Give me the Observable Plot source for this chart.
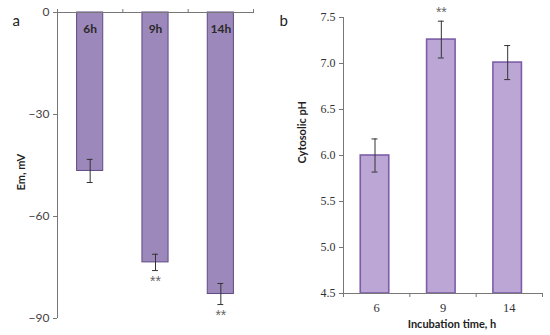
<!DOCTYPE html>
<html>
<head>
<meta charset="utf-8">
<script src="https://cdn.jsdelivr.net/npm/d3@7"></script>
<script src="https://cdn.jsdelivr.net/npm/@observablehq/plot@0.6"></script>
<style>
  html, body { margin: 0; padding: 0; background: #fff; }
  #wrap { display: flex; width: 550px; height: 335px; }
  #wrap svg { display: block; background: #fff; }
</style>
</head>
<body>
<div id="wrap"></div>
<script>
// Panel a: membrane potential
const panelAHours = ["6h", "9h", "14h"];
const panelAValues = [-46.6, -73.5, -82.8];
const panelAErrors = [3.4, 2.4, 3.1];
const panelASig = ["", "**", "**"];
const panelATicks = [0, -30, -60, -90];

// Panel b: cytosolic pH
const panelBHours = ["6", "9", "14"];
const panelBValues = [6.0, 7.26, 7.01];
const panelBErrors = [0.18, 0.2, 0.185];
const panelBSig = ["", "**", ""];
const panelBTicks = [4.5, 5.0, 5.5, 6.0, 6.5, 7.0, 7.5];

const dataA = panelAHours.map((h, i) => ({i, hour: h, value: panelAValues[i], err: panelAErrors[i], sig: panelASig[i]}));
const dataB = panelBHours.map((h, i) => ({i, hour: h, value: panelBValues[i], err: panelBErrors[i], sig: panelBSig[i]}));
const bounds = d3.range(panelAHours.length + 1);
const sans = "Lato, 'Open Sans', sans-serif";
const serif = "'Liberation Serif', 'DejaVu Serif', serif";
const starFont = "'Liberation Sans', Arial, sans-serif";
const axisColor = "#777";
const errColor = "#333";

const plotA = Plot.plot({
  width: 275, height: 335,
  marginLeft: 57, marginRight: 22, marginTop: 12, marginBottom: 17,
  style: {fontFamily: sans, background: "#fff", overflow: "visible"},
  x: {type: "linear", domain: [0, panelAHours.length], axis: null},
  y: {domain: [d3.min(panelATicks), d3.max(panelATicks)], axis: null},
  marks: [
    Plot.rectY(dataA, {x1: d => d.i + 0.3, x2: d => d.i + 0.7, y1: 0, y2: "value",
      fill: "#9d88bb", stroke: "#5f4b82", strokeWidth: 1}),
    Plot.ruleY([0], {stroke: axisColor}),
    Plot.ruleX([0], {stroke: axisColor}),
    Plot.axisY({ticks: panelATicks, tickSize: 4, tickPadding: 4, fontSize: 12, color: "#444", stroke: axisColor, label: null}),
    Plot.axisX({ticks: bounds, anchor: "top", tickSize: 4, tickFormat: () => "", stroke: axisColor, label: null}),
    Plot.text(dataA, {x: d => d.i + 0.5, y: 0, text: "hour", dy: 17, fontWeight: "bold", fontSize: 12, fill: "#2a2a2a"}),
    Plot.ruleX(dataA, {x: d => d.i + 0.5, y1: d => d.value - d.err, y2: d => d.value + d.err, stroke: errColor}),
    Plot.ruleY(dataA, {y: d => d.value - d.err, x1: d => d.i + 0.455, x2: d => d.i + 0.545, stroke: errColor}),
    Plot.ruleY(dataA, {y: d => d.value + d.err, x1: d => d.i + 0.455, x2: d => d.i + 0.545, stroke: errColor}),
    Plot.text(dataA, {x: d => d.i + 0.5, y: d => d.value - d.err, text: "sig", dy: 11, fontSize: 14, fontFamily: starFont, letterSpacing: 1.5, fill: "#666"}),
    Plot.text(["Em, mV"], {frameAnchor: "left", rotate: -90, dx: -36, dy: 25, fontWeight: "bold", fontSize: 11, fill: "#222"}),
    Plot.text(["a"], {frameAnchor: "top-left", dx: -45, dy: 3, fontSize: 15, fill: "#222"})
  ]
});

const plotB = Plot.plot({
  width: 275, height: 335,
  marginLeft: 68, marginRight: 8, marginTop: 17, marginBottom: 42,
  style: {fontFamily: sans, background: "#fff", overflow: "visible"},
  x: {type: "linear", domain: [0, panelBHours.length], axis: null},
  y: {domain: [d3.min(panelBTicks), d3.max(panelBTicks)], axis: null},
  marks: [
    Plot.rectY(dataB, {x1: d => d.i + 0.26, x2: d => d.i + 0.69, y1: d3.min(panelBTicks), y2: "value",
      fill: "#bba6d6", stroke: "#7b5ea7", strokeWidth: 1.6}),
    Plot.ruleY([d3.min(panelBTicks)], {stroke: axisColor}),
    Plot.ruleX([0], {stroke: axisColor}),
    Plot.axisY({ticks: panelBTicks, tickSize: 4, tickPadding: 4, tickFormat: d3.format(".1f"), fontSize: 12, fontFamily: serif, color: "#333", stroke: axisColor, label: null}),
    Plot.axisX({ticks: bounds, anchor: "bottom", tickSize: 4, tickFormat: () => "", stroke: axisColor, label: null}),
    Plot.axisX({ticks: bounds.slice(0, -1).map(i => i + 0.5), anchor: "bottom", tickSize: 0, tickPadding: 10,
      tickFormat: d => panelBHours[d - 0.5], fontSize: 12.5, fontFamily: serif, color: "#333", label: null}),
    Plot.ruleX(dataB, {x: d => d.i + 0.475, y1: d => d.value - d.err, y2: d => d.value + d.err, stroke: errColor}),
    Plot.ruleY(dataB, {y: d => d.value - d.err, x1: d => d.i + 0.43, x2: d => d.i + 0.52, stroke: errColor}),
    Plot.ruleY(dataB, {y: d => d.value + d.err, x1: d => d.i + 0.43, x2: d => d.i + 0.52, stroke: errColor}),
    Plot.text(dataB, {x: d => d.i + 0.475, y: d => d.value + d.err, text: "sig", dy: -9, fontSize: 14, fontFamily: starFont, letterSpacing: 1.5, fill: "#666"}),
    Plot.text(["Cytosolic pH"], {frameAnchor: "left", rotate: -90, dx: -41, dy: 8, fontWeight: "bold", fontSize: 11, fill: "#222"}),
    Plot.text(["Incubation time, h"], {frameAnchor: "bottom", dx: 9, dy: 34, fontWeight: "bold", fontSize: 11, fill: "#222"}),
    Plot.text(["b"], {frameAnchor: "top-left", dx: -64, dy: -2, fontSize: 15, fill: "#222"})
  ]
});

document.getElementById("wrap").append(plotA, plotB);
</script>
</body>
</html>
